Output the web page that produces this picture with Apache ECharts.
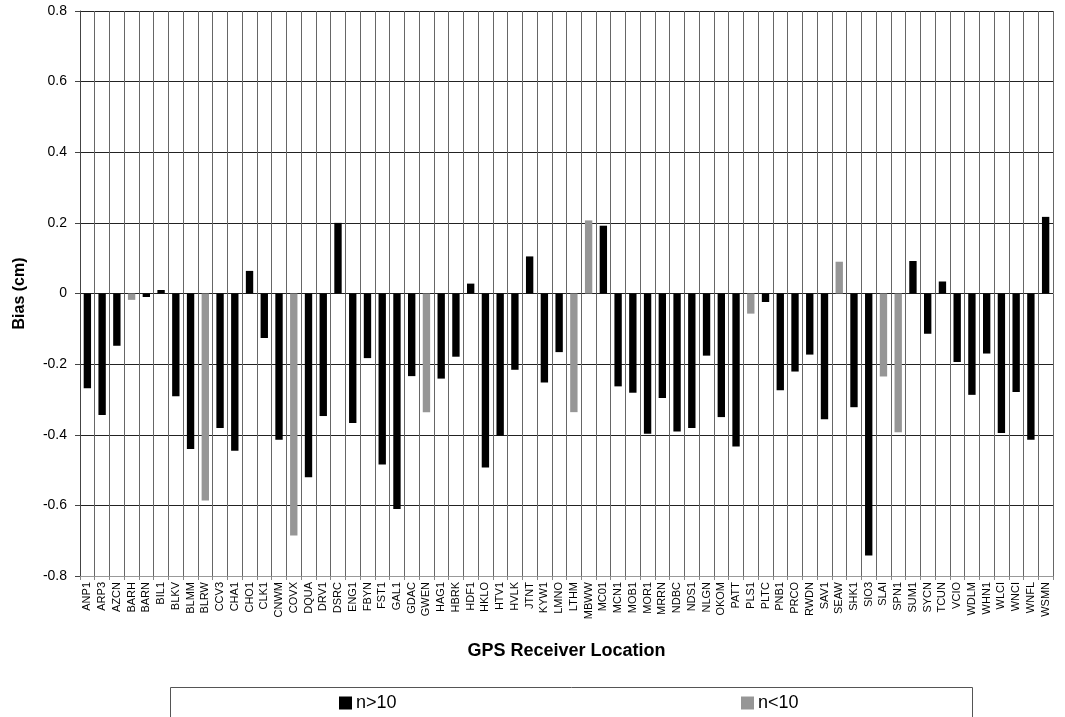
<!DOCTYPE html>
<html>
<head>
<meta charset="utf-8">
<script src="https://cdn.jsdelivr.net/npm/echarts@6/dist/echarts.min.js"></script>
<style>
  html, body { margin: 0; padding: 0; background: #fff; }
  #chart { width: 1065px; height: 717px; }
</style>
</head>
<body>
<div id="chart"></div>
<script>
// GPS receiver stations along the x axis
const stations = [
  'ANP1','ARP3','AZCN','BARH','BARN','BIL1','BLKV','BLMM','BLRW','CCV3',
  'CHA1','CHO1','CLK1','CNWM','COVX','DQUA','DRV1','DSRC','ENG1','FBYN',
  'FST1','GAL1','GDAC','GWEN','HAG1','HBRK','HDF1','HKLO','HTV1','HVLK',
  'JTNT','KYW1','LMNO','LTHM','MBWW','MC01','MCN1','MOB1','MOR1','MRRN',
  'NDBC','NDS1','NLGN','OKOM','PATT','PLS1','PLTC','PNB1','PRCO','RWDN',
  'SAV1','SEAW','SHK1','SIO3','SLAI','SPN1','SUM1','SYCN','TCUN','VCIO',
  'WDLM','WHN1','WLCI','WNCI','WNFL','WSMN'
];

// Bias (cm) per station
const bias = [
  -0.268, -0.344, -0.148, -0.018, -0.010,  0.010, -0.291, -0.440, -0.586, -0.381,
  -0.445,  0.064, -0.126, -0.414, -0.685, -0.520, -0.347,  0.200, -0.367, -0.183,
  -0.484, -0.610, -0.234, -0.336, -0.241, -0.179,  0.028, -0.493, -0.403, -0.216,
   0.105, -0.252, -0.166, -0.336,  0.207,  0.192, -0.263, -0.281, -0.397, -0.296,
  -0.391, -0.381, -0.176, -0.350, -0.433, -0.057, -0.024, -0.274, -0.221, -0.173,
  -0.356,  0.090, -0.322, -0.742, -0.235, -0.393,  0.092, -0.114,  0.034, -0.194,
  -0.287, -0.170, -0.395, -0.279, -0.414,  0.217
];

// Stations with fewer than 10 samples
const fewSamples = ['BARH','BLRW','COVX','GWEN','LTHM','MBWW','PLS1','SEAW','SLAI','SPN1'];

// Value-axis tick settings
const yMin = -0.8, yMax = 0.8, yStep = 0.2;

const seriesMany = stations.map((s, i) => fewSamples.includes(s) ? null : bias[i]);
const seriesFew  = stations.map((s, i) => fewSamples.includes(s) ? bias[i] : null);

const chart = echarts.init(document.getElementById('chart'), null, { renderer: 'canvas' });

const font = 'Arial, "Liberation Sans", sans-serif';

const legendText = { fontFamily: font, fontSize: 18, color: '#000', padding: [0, 0, 0, -1] };

chart.setOption({
  animation: false,
  backgroundColor: '#ffffff',
  textStyle: { fontFamily: font },
  grid: { left: 80, right: 12, top: 11, bottom: 141, containLabel: false },
  legend: [
    {
      data: ['n>10'], left: 339, top: 694,
      itemWidth: 13, itemHeight: 13, itemGap: 4,
      icon: 'rect', padding: 0, textStyle: legendText
    },
    {
      data: ['n<10'], left: 741, top: 694,
      itemWidth: 13, itemHeight: 13, itemGap: 4,
      icon: 'rect', padding: 0, textStyle: legendText
    }
  ],
  graphic: [
    {
      type: 'rect', left: 168, top: 685, silent: true,
      shape: { width: 802, height: 60 },
      style: { fill: 'none', stroke: '#555', lineWidth: 1 }
    }
  ],
  xAxis: {
    type: 'category',
    data: stations,
    boundaryGap: true,
    name: 'GPS Receiver Location',
    nameLocation: 'middle',
    nameGap: 66,
    nameTextStyle: { fontFamily: font, fontSize: 18, fontWeight: 'bold', color: '#000' },
    axisLine: { onZero: false, lineStyle: { color: '#999', width: 1 } },
    axisTick: { show: true, length: 4, lineStyle: { color: '#888' } },
    axisLabel: {
      interval: 0, rotate: 90, fontSize: 11, color: '#000', margin: 6,
      fontFamily: font
    },
    splitLine: { show: true, interval: 0, lineStyle: { color: '#666', width: 1 } }
  },
  yAxis: {
    type: 'value',
    min: yMin, max: yMax, interval: yStep,
    name: 'Bias (cm)',
    nameLocation: 'middle',
    nameGap: 52,
    nameTextStyle: { fontFamily: font, fontSize: 16, fontWeight: 'bold', color: '#000' },
    axisLine: { show: true, lineStyle: { color: '#444', width: 1 } },
    axisTick: { show: true, length: 5, lineStyle: { color: '#444' } },
    axisLabel: {
      fontSize: 14, color: '#000', margin: 13, fontFamily: font,
      formatter: v => (Math.abs(v) < 1e-9 ? '0' : String(Math.round(v * 10) / 10))
    },
    splitLine: { show: true, lineStyle: { color: '#222', width: 1 } }
  },
  series: [
    {
      name: 'n>10', type: 'bar', stack: 'bias', data: seriesMany,
      barWidth: '50%',
      itemStyle: { color: '#000000' }
    },
    {
      name: 'n<10', type: 'bar', stack: 'bias', data: seriesFew,
      barWidth: '50%',
      itemStyle: { color: '#969696' }
    }
  ]
});
</script>
</body>
</html>
